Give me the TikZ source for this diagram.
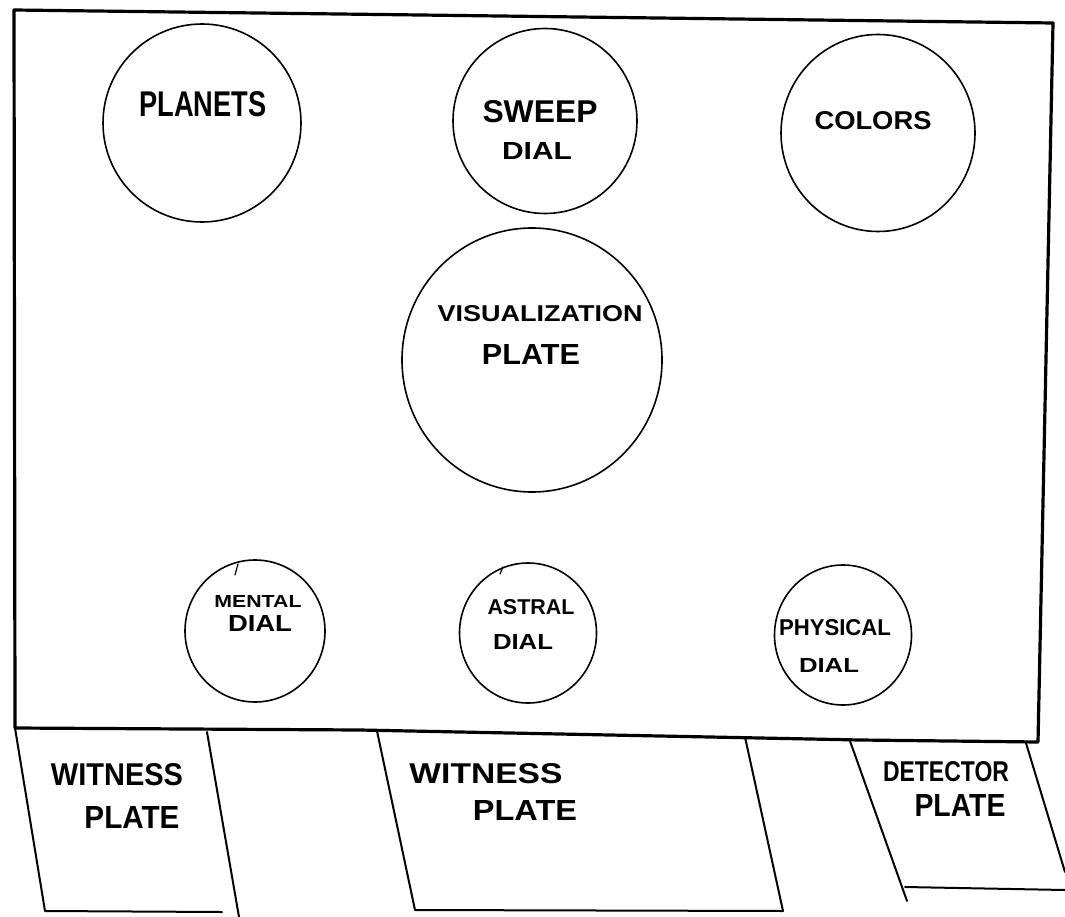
\documentclass[tikz,border=0pt]{standalone}
\usepackage{fontspec}
\setmainfont{Liberation Sans}
\usetikzlibrary{shapes.geometric}
\newcommand{\hwtext}[3]{\resizebox{#1pt}{#2pt}{\bfseries #3}}
\begin{document}
\begin{tikzpicture}[x=1pt,y=-1pt,
  dial/.style={ellipse, draw, line width=1.6pt, inner sep=0pt},
  lbl/.style={inner sep=0pt, anchor=center},
  frame/.style={line width=3.2pt, line join=round, line cap=round},
  plateline/.style={line width=2pt, line cap=round, line join=round},
  tick/.style={line width=1.2pt, line cap=round}]
\useasboundingbox (0,0) rectangle (1065,917);

% main panel
\coordinate (tl) at (14,10);
\coordinate (tm) at (420,15);
\coordinate (tr) at (1053,23);
\coordinate (br) at (1038,742);
\coordinate (bm2) at (860,740);
\coordinate (bm1) at (360,730);
\coordinate (bl) at (15,728);
\draw[frame] (tl) -- (tm) -- (tr) -- (br) -- (bm2) -- (bm1) -- (bl) -- cycle;

% dials and plates
\node[dial, minimum width=198pt, minimum height=198pt] (planets) at (202,123) {};
\node[dial, minimum width=184pt, minimum height=185pt] (sweep) at (545,121) {};
\node[dial, minimum width=194pt, minimum height=197pt] (colors) at (878,133) {};
\node[dial, minimum width=260pt, minimum height=264pt] (vis) at (532,360) {};
\node[dial, minimum width=140pt, minimum height=142pt] (mental) at (255,631) {};
\node[dial, minimum width=137pt, minimum height=140pt] (astral) at (528,633) {};
\node[dial, minimum width=137pt, minimum height=140pt] (physical) at (843,635) {};

% small pen ticks
\draw[tick] (238,564) -- (235,575);
\draw[tick] (503,567) -- (500,574);

% labels
\node[lbl] (tplanets) at (203,104) {\hwtext{127}{25}{PLANETS}};
\node[lbl] (tsweep) at (540,112) {\hwtext{115}{22}{SWEEP}};
\node[lbl] (tsweepd) at (537,151) {\hwtext{70}{17}{DIAL}};
\node[lbl] (tcolors) at (873,121) {\hwtext{117}{18}{COLORS}};
\node[lbl] (tvis) at (540,314) {\hwtext{205}{16}{VISUALIZATION}};
\node[lbl] (tvisp) at (531,354) {\hwtext{98}{20}{PLATE}};
\node[lbl] (tmental) at (258,601) {\hwtext{87}{12}{MENTAL}};
\node[lbl] (tmentald) at (260,623) {\hwtext{64}{16}{DIAL}};
\node[lbl] (tastral) at (531,607) {\hwtext{87}{15}{ASTRAL}};
\node[lbl] (tastrald) at (523,642) {\hwtext{60}{15}{DIAL}};
\node[lbl] (tphys) at (835,628) {\hwtext{112}{16}{PHYSICAL}};
\node[lbl] (tphysd) at (829,665) {\hwtext{60}{14}{DIAL}};

% bottom plates
\coordinate (lp1) at (15,728);
\coordinate (lp2) at (45,911);
\coordinate (lp3) at (222,912);
\coordinate (lp4) at (207,732);
\coordinate (lp5) at (239,917);
\draw[plateline] (lp1) -- (lp2) -- (lp3);
\draw[plateline] (lp4) -- (lp5);

\coordinate (mp1) at (377,731);
\coordinate (mp2) at (415,910);
\coordinate (mp3) at (783,911);
\coordinate (mp4) at (745,737);
\draw[plateline] (mp1) -- (mp2) -- (mp3) -- (mp4);

\coordinate (rp1) at (850,741);
\coordinate (rp2) at (907,901);
\coordinate (rp3) at (905,887);
\coordinate (rp4) at (1065,890);
\coordinate (rp5) at (1026,743);
\coordinate (rp6) at (1065,872);
\draw[plateline] (rp1) -- (rp2);
\draw[plateline] (rp3) -- (rp4);
\draw[plateline] (rp5) -- (rp6);

\node[lbl] (tw1) at (117,775) {\hwtext{132}{22}{WITNESS}};
\node[lbl] (tp1) at (132,817) {\hwtext{95}{22}{PLATE}};
\node[lbl] (tw2) at (486,774) {\hwtext{153}{20}{WITNESS}};
\node[lbl] (tp2) at (525,810) {\hwtext{104}{20}{PLATE}};
\node[lbl] (td3) at (946,772) {\hwtext{126}{20}{DETECTOR}};
\node[lbl] (tp3) at (960,805) {\hwtext{91}{22}{PLATE}};
\end{tikzpicture}
\end{document}
